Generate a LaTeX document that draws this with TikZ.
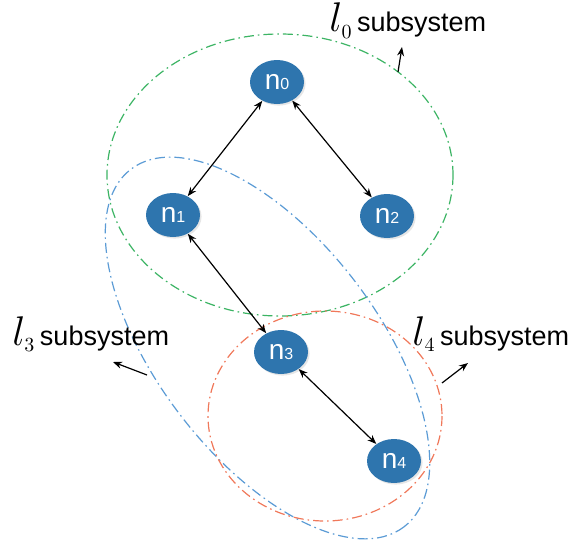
\documentclass[tikz,border=0pt]{standalone}
\usepackage[no-math]{fontspec}
\setmainfont{Liberation Sans}
\usepackage{xcolor}
\usetikzlibrary{shapes.geometric,arrows.meta,shadows}

\definecolor{nodeblue}{RGB}{46,117,174}
\definecolor{lzero}{RGB}{60,180,100}
\definecolor{lthree}{RGB}{91,155,213}
\definecolor{lfour}{RGB}{240,120,90}

\begin{document}
\begin{tikzpicture}[x=0.5pt, y=-0.5pt,
    vertex/.style={ellipse, fill=nodeblue, text=white, minimum width=27pt, minimum height=22pt,
      inner sep=0pt, font=\fontsize{14}{16}\selectfont,
      drop shadow={shadow xshift=0.8pt, shadow yshift=-0.8pt, opacity=0.2}},
    link/.style={<->, >={Stealth[length=4.5pt, width=3.5pt]}, line width=0.6pt},
    pointer/.style={->, >={Stealth[length=4.5pt, width=3.5pt]}, line width=0.6pt},
    subsys/.style={line width=0.6pt, dash pattern=on 5pt off 2pt on 0.8pt off 2pt},
    tag/.style={anchor=base west, inner sep=0pt, font=\fontsize{13.5}{16}\selectfont}]
    \useasboundingbox (0,0) rectangle (568,546);

    \draw[subsys, lzero] (280,175) ellipse [x radius=173, y radius=141];
    \draw[subsys, lthree, rotate around={-52.6:(267.5,348)}] (267.5,348) ellipse [x radius=225, y radius=110];
    \draw[subsys, lfour] (325,416) ellipse [x radius=117, y radius=105];

    \node[vertex] (n0) at (277,82) {n{\fontsize{8}{9}\selectfont 0}};
    \node[vertex] (n1) at (173,215) {n{\fontsize{8}{9}\selectfont 1}};
    \node[vertex] (n2) at (387,216) {n{\fontsize{8}{9}\selectfont 2}};
    \node[vertex] (n3) at (281,352) {n{\fontsize{8}{9}\selectfont 3}};
    \node[vertex] (n4) at (394,461) {n{\fontsize{8}{9}\selectfont 4}};

    \draw[link] (n0) -- (n1);
    \draw[link] (n0) -- (n2);
    \draw[link] (n1) -- (n3);
    \draw[link] (n3) -- (n4);

    \node[tag] (t0) at (329,32) {{\fontsize{20}{24}\selectfont$l_{\scriptscriptstyle 0}$}\,subsystem};
    \node[tag] (t3) at (12,345) {{\fontsize{20}{24}\selectfont$l_{\scriptscriptstyle 3}$}\,subsystem};
    \node[tag] (t4) at (412,345) {{\fontsize{20}{24}\selectfont$l_{\scriptscriptstyle 4}$}\,subsystem};

    \coordinate (p0) at (398,72);
    \coordinate (q0) at (402,47);
    \coordinate (p3) at (147,375);
    \coordinate (q3) at (113,362);
    \coordinate (p4) at (442,383);
    \coordinate (q4) at (468,363);
    \draw[pointer] (p0) -- (q0);
    \draw[pointer] (p3) -- (q3);
    \draw[pointer] (p4) -- (q4);
\end{tikzpicture}
\end{document}
